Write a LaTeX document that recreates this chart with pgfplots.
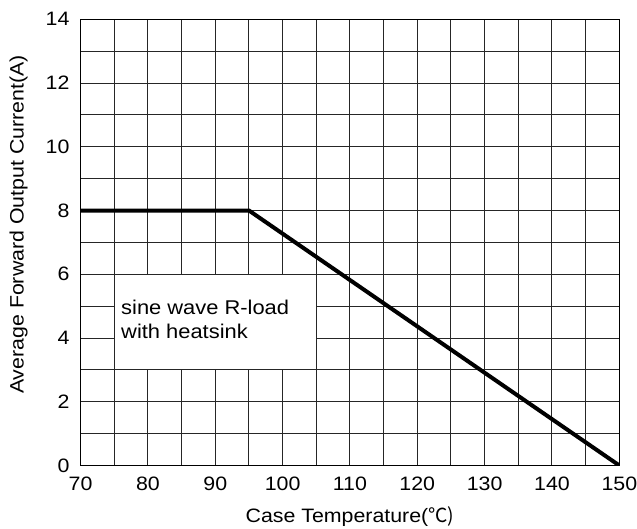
\documentclass[border=0pt]{standalone}
\usepackage{pgfplots}
\pgfplotsset{compat=1.18}
\usepackage{fontspec}
\setmainfont{Liberation Sans}[FakeStretch=1.1]
\newfontfamily\cjk{Noto Sans CJK SC}
\begin{document}
\begin{tikzpicture}[font=\fontsize{19.5}{23}\selectfont]
\useasboundingbox (-80.7bp,-63bp) rectangle (557bp,466bp);
\begin{axis}[
  at={(0,0)}, anchor=south west,
  scale only axis, width=539.3bp, height=446.7bp,
  xmin=70, xmax=150, ymin=0, ymax=14,
  xtick={70,80,...,150}, minor xtick={75,85,...,145},
  ytick={0,2,...,14}, minor ytick={1,3,...,13},
  grid=both,
  major grid style={black!85, line width=1bp},
  minor grid style={black!85, line width=1bp},
  major tick length=0pt, minor tick length=0pt,
  axis line style={black, line width=1bp},
  /pgf/number format/assume math mode=true,
  xticklabel style={anchor=base, yshift=-25bp, inner sep=0pt},
  yticklabel style={anchor=east, xshift=-11bp, inner sep=0pt},
  xlabel={Case Temperature(\cjk{℃})},
  xlabel style={at={(axis description cs:0.5,0)}, anchor=base, yshift=-57bp, inner sep=0pt},
  ylabel={Average Forward Output Current(A)},
  ylabel style={at={(axis description cs:0,0.54)}, anchor=center, yshift=62bp, inner sep=0pt},
]
\draw[black!85, line width=1bp, fill=white] (axis cs:75,3) rectangle (axis cs:105,6);
\node[anchor=base west, inner sep=0pt, font=\fontsize{20}{24}\selectfont] at (axis cs:76,4.73) {sine wave R-load};
\node[anchor=base west, inner sep=0pt, font=\fontsize{20}{24}\selectfont] at (axis cs:76,3.98) {with heatsink};
\addplot[black, line width=4bp] coordinates {(70,8) (95,8) (150,0)};
\end{axis}
\end{tikzpicture}
\end{document}
